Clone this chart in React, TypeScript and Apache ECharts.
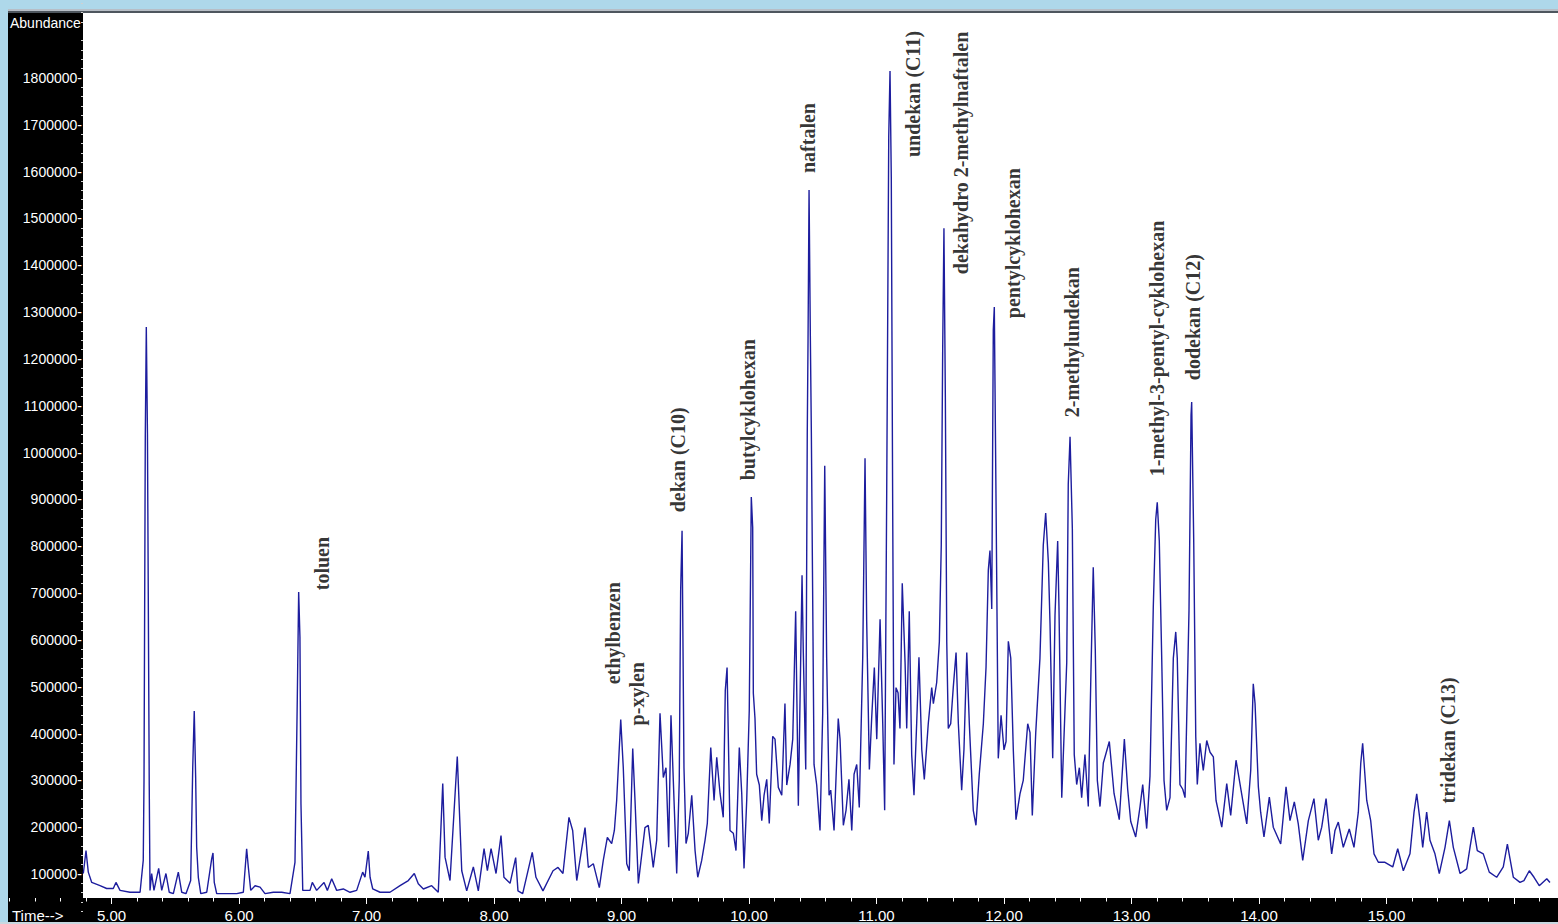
import React, { useEffect, useRef } from "react";
import * as echarts from "echarts";

// Retention time (min) and abundance, in segments
const segEarly: number[][] = [
  [4.779, 101000], [4.8, 150000], [4.818, 104000], [4.845, 82000], [4.91, 75000], [4.962, 69000],
  [5.014, 69000], [5.035, 82000], [5.067, 65000], [5.145, 61000], [5.224, 61000], [5.249, 129000],
  [5.255, 300000], [5.265, 1033000], [5.273, 1268000], [5.282, 1040000], [5.296, 289000], [5.302, 65000],
  [5.315, 101000], [5.333, 65000], [5.37, 112000], [5.394, 65000], [5.427, 101000], [5.453, 61000],
  [5.485, 58000], [5.524, 104000], [5.551, 61000], [5.584, 58000], [5.621, 86000], [5.637, 326000],
  [5.649, 448000], [5.66, 307000], [5.668, 157000], [5.681, 93000], [5.7, 58000], [5.747, 61000],
  [5.786, 133000], [5.796, 145000], [5.806, 82000], [5.825, 58000], [5.904, 58000], [5.982, 58000],
  [6.034, 61000], [6.06, 154000], [6.073, 115000], [6.092, 65000], [6.126, 75000], [6.165, 72000],
  [6.204, 58000], [6.269, 61000], [6.335, 61000], [6.4, 58000], [6.439, 125000], [6.457, 471000],
  [6.468, 702000], [6.478, 606000], [6.486, 250000], [6.5, 65000], [6.557, 65000], [6.575, 82000],
  [6.609, 65000], [6.667, 82000], [6.693, 65000], [6.727, 90000], [6.766, 65000], [6.818, 68000],
  [6.871, 61000], [6.923, 65000], [6.97, 104000], [6.988, 93000], [7.014, 149000], [7.028, 93000],
  [7.049, 68000], [7.106, 61000], [7.184, 61000], [7.263, 75000], [7.328, 86000], [7.375, 101000],
  [7.406, 79000], [7.446, 68000], [7.511, 75000], [7.563, 61000], [7.584, 200000],
];

const segC10: number[][] = [
  [7.598, 293000], [7.616, 136000], [7.655, 86000], [7.712, 351000], [7.747, 107000], [7.786, 64000],
  [7.838, 115000], [7.877, 64000], [7.922, 154000], [7.948, 107000], [7.977, 154000], [8.016, 101000],
  [8.055, 182000], [8.078, 93000], [8.126, 80000], [8.17, 135000], [8.188, 64000], [8.225, 58000],
  [8.3, 146000], [8.329, 93000], [8.384, 64000], [8.463, 107000], [8.502, 114000], [8.541, 101000],
  [8.588, 221000], [8.617, 193000], [8.649, 86000], [8.714, 199000], [8.74, 114000], [8.779, 122000],
  [8.826, 71000], [8.857, 129000], [8.889, 178000], [8.923, 165000], [8.944, 193000], [8.962, 257000],
  [8.994, 430000], [9.014, 327000], [9.041, 122000], [9.061, 107000], [9.088, 368000], [9.106, 257000],
  [9.132, 80000], [9.184, 199000], [9.21, 204000], [9.249, 114000], [9.276, 172000], [9.302, 443000],
  [9.328, 306000], [9.349, 327000], [9.37, 157000], [9.388, 439000], [9.412, 257000], [9.433, 101000],
  [9.453, 300000], [9.464, 706000], [9.475, 833000], [9.49, 327000], [9.506, 165000], [9.524, 187000],
  [9.551, 268000], [9.577, 150000], [9.598, 93000], [9.629, 129000], [9.655, 172000], [9.673, 208000],
  [9.7, 370000], [9.726, 257000], [9.747, 349000], [9.773, 272000], [9.798, 221000], [9.814, 492000],
  [9.828, 541000], [9.851, 193000], [9.877, 187000], [9.898, 150000], [9.924, 370000], [9.943, 272000],
  [9.961, 112000], [9.982, 257000], [10.002, 449000], [10.018, 905000], [10.029, 840000], [10.034, 486000],
  [10.047, 432000], [10.06, 313000],
];

const segC11: number[][] = [
  [10.081, 290000], [10.1, 214000], [10.118, 268000], [10.139, 302000], [10.159, 208000], [10.186, 394000],
  [10.204, 388000], [10.23, 285000], [10.257, 268000], [10.282, 464000], [10.296, 290000], [10.322, 334000],
  [10.343, 388000], [10.366, 661000], [10.387, 246000], [10.416, 738000], [10.426, 573000], [10.445, 323000],
  [10.457, 1043000], [10.463, 1239000], [10.471, 1561000], [10.481, 1250000], [10.489, 1043000], [10.51, 334000],
  [10.531, 290000], [10.557, 193000], [10.578, 443000], [10.594, 972000], [10.609, 563000], [10.628, 268000],
  [10.641, 279000], [10.667, 193000], [10.7, 432000], [10.714, 388000], [10.74, 204000], [10.761, 236000],
  [10.784, 302000], [10.806, 193000], [10.824, 313000], [10.845, 334000], [10.865, 242000], [10.892, 563000],
  [10.91, 988000], [10.923, 640000], [10.944, 323000], [10.962, 432000], [10.983, 541000], [11.002, 388000],
  [11.028, 644000], [11.049, 421000], [11.064, 236000], [11.08, 912000], [11.096, 1675000], [11.106, 1815000],
  [11.116, 1588000], [11.127, 879000], [11.137, 334000], [11.153, 498000], [11.169, 487000], [11.184, 411000],
  [11.202, 721000], [11.224, 552000], [11.237, 411000], [11.257, 661000], [11.276, 355000], [11.294, 268000],
  [11.315, 421000], [11.333, 563000], [11.355, 366000], [11.375, 302000], [11.406, 421000], [11.433, 498000],
  [11.446, 464000], [11.472, 509000], [11.493, 596000], [11.508, 803000], [11.519, 1217000], [11.529, 1479000],
  [11.54, 1118000], [11.551, 596000], [11.563, 411000], [11.582, 421000], [11.602, 498000], [11.624, 573000],
  [11.642, 421000], [11.668, 279000], [11.686, 366000], [11.708, 573000], [11.728, 421000], [11.759, 236000],
  [11.78, 204000], [11.806, 313000], [11.838, 421000], [11.859, 541000], [11.877, 749000], [11.89, 791000],
  [11.904, 666000], [11.916, 1261000], [11.924, 1311000], [11.937, 912000],
];

const segC12: number[][] = [
  [11.955, 347000], [11.977, 439000], [12.0, 365000], [12.016, 383000], [12.034, 597000], [12.053, 561000],
  [12.073, 365000], [12.094, 216000], [12.126, 272000], [12.151, 300000], [12.186, 421000], [12.204, 402000],
  [12.222, 225000], [12.249, 402000], [12.282, 561000], [12.308, 802000], [12.327, 871000], [12.348, 765000],
  [12.361, 634000], [12.382, 347000], [12.4, 652000], [12.421, 811000], [12.431, 672000], [12.453, 263000],
  [12.492, 551000], [12.504, 932000], [12.518, 1034000], [12.536, 838000], [12.551, 355000], [12.57, 291000],
  [12.591, 327000], [12.609, 263000], [12.635, 355000], [12.661, 244000], [12.682, 532000], [12.7, 755000],
  [12.716, 579000], [12.732, 300000], [12.753, 244000], [12.779, 337000], [12.826, 383000], [12.863, 272000],
  [12.904, 216000], [12.944, 388000], [12.97, 281000], [12.994, 212000], [13.033, 179000], [13.067, 244000],
  [13.088, 291000], [13.119, 197000], [13.145, 309000], [13.171, 672000], [13.19, 857000], [13.202, 894000],
  [13.218, 811000], [13.237, 561000], [13.255, 300000], [13.276, 236000], [13.302, 263000], [13.328, 561000],
  [13.347, 617000], [13.359, 561000], [13.38, 291000], [13.402, 281000], [13.42, 263000], [13.451, 663000],
  [13.467, 1080000], [13.472, 1108000], [13.488, 811000], [13.504, 393000], [13.516, 291000],
];

const segLate: number[][] = [
  [13.537, 379000], [13.563, 321000], [13.59, 385000], [13.616, 360000], [13.642, 350000], [13.663, 257000],
  [13.708, 200000], [13.747, 293000], [13.778, 225000], [13.82, 343000], [13.864, 271000], [13.904, 207000],
  [13.935, 321000], [13.955, 506000], [13.969, 464000], [13.995, 286000], [14.013, 232000], [14.039, 179000],
  [14.081, 264000], [14.112, 200000], [14.17, 164000], [14.212, 286000], [14.243, 214000], [14.277, 254000],
  [14.308, 207000], [14.343, 129000], [14.387, 214000], [14.431, 261000], [14.465, 172000], [14.492, 200000],
  [14.526, 261000], [14.57, 143000], [14.596, 193000], [14.622, 211000], [14.661, 157000], [14.708, 196000],
  [14.745, 157000], [14.779, 232000], [14.798, 336000], [14.813, 379000], [14.845, 257000], [14.876, 214000],
  [14.902, 143000], [14.936, 125000], [14.988, 125000], [15.049, 115000], [15.088, 154000], [15.132, 107000],
  [15.184, 143000], [15.216, 232000], [15.237, 271000], [15.263, 214000], [15.284, 157000], [15.315, 232000],
  [15.341, 172000], [15.38, 143000], [15.414, 101000], [15.459, 157000], [15.493, 214000], [15.524, 157000],
  [15.577, 101000], [15.629, 111000], [15.655, 157000], [15.681, 200000], [15.712, 150000], [15.759, 143000],
  [15.806, 104000], [15.864, 93000], [15.916, 115000], [15.948, 164000], [15.995, 93000], [16.047, 82000],
  [16.078, 86000], [16.12, 107000], [16.157, 93000], [16.198, 75000], [16.257, 90000], [16.282, 82000],
];

// Peak annotations: name, retention time of label column, abundance where label text begins
const peakNames = [
  "toluen", "ethylbenzen", "p-xylen", "dekan (C10)", "butylcyklohexan", "naftalen", "undekan (C11)",
  "dekahydro 2-methylnaftalen", "pentylcyklohexan", "2-methylundekan", "1-methyl-3-pentyl-cyklohexan",
  "dodekan (C12)", "tridekan (C13)",
];
const peakLabelTime = [6.651, 8.931, 9.119, 9.446, 9.995, 10.46, 11.29, 11.663, 12.067, 12.531, 13.2, 13.48, 15.485];
const peakLabelAbund = [706000, 505000, 417400, 872500, 940900, 1597000, 1631200, 1381100, 1287100, 1075600, 949500, 1154600, 250700];

const yAxisMin = 0;
const yAxisMax = 2000000;
const yStep = 100000;
const yLabelLow = 100000;
const yLabelHigh = 1800000;
const xAxisMin = 4;
const xAxisMax = 17;
const xLabelLow = 5;
const xLabelHigh = 15;

const chromatogram = [...segEarly, ...segC10, ...segC11, ...segC12, ...segLate];

export default function App() {
  const ref = useRef<HTMLDivElement>(null);

  useEffect(() => {
    if (!ref.current) return;
    const chart = echarts.init(ref.current, undefined, { renderer: "svg" });
    const W = 1558;
    const H = 924;
    const sans = '"Liberation Sans", Arial, sans-serif';
    chart.setOption({
      animation: false,
      backgroundColor: "#000000",
      graphic: [
        { type: "rect", z: 0, shape: { x: 0, y: 0, width: W, height: 9 }, style: { fill: "#aed8ea" } },
        { type: "rect", z: 0, shape: { x: 0, y: 0, width: 8, height: H }, style: { fill: "#aed8ea" } },
        { type: "rect", z: 0, shape: { x: 8, y: 9, width: W - 8, height: 2 }, style: { fill: "#b7bec6" } },
        { type: "rect", z: 0, shape: { x: 8, y: 11, width: W - 8, height: 2 }, style: { fill: "#4e565e" } },
        { type: "rect", z: 0, shape: { x: 0, y: 922, width: W, height: 2 }, style: { fill: "#c8d8e0" } },
        { type: "rect", z: 0, shape: { x: 83, y: 13, width: W - 83, height: 885 }, style: { fill: "#ffffff" } },
        {
          type: "text", z: 5, x: 10, y: 23,
          style: { text: "Abundance", fill: "#ffffff", font: "14px " + sans, textVerticalAlign: "middle" },
        },
        {
          type: "text", z: 5, x: 12, y: 915,
          style: { text: "Time-->", fill: "#ffffff", font: "15px " + sans, textVerticalAlign: "middle" },
        },
      ],
      grid: {
        left: -16,
        right: -83.5,
        top: -15.65,
        bottom: 3.18,
        outerBoundsMode: "none",
        containLabel: false,
      },
      xAxis: {
        type: "value",
        min: xAxisMin,
        max: xAxisMax,
        interval: 1,
        offset: -22.82,
        axisLine: { show: false },
        splitLine: { show: false },
        axisTick: { show: true, length: 6, lineStyle: { color: "#ffffff", width: 1 } },
        minorTick: { show: true, splitNumber: 5, length: 3.5, lineStyle: { color: "#ffffff", width: 1 } },
        axisLabel: {
          color: "#ffffff",
          fontSize: 15,
          fontFamily: sans,
          margin: 10,
          formatter: (v: number) => (v >= xLabelLow && v <= xLabelHigh ? v.toFixed(2) : ""),
        },
      },
      yAxis: {
        type: "value",
        min: yAxisMin,
        max: yAxisMax,
        interval: yStep,
        offset: -99,
        axisLine: { show: false },
        splitLine: { show: false },
        axisTick: { show: false },
        minorTick: { show: true, splitNumber: 5, length: 2, lineStyle: { color: "#d0d0d0", width: 1 } },
        axisLabel: {
          color: "#ffffff",
          fontSize: 14,
          fontFamily: sans,
          margin: 1,
          formatter: (v: number) => (v >= yLabelLow && v <= yLabelHigh ? String(v) + "-" : ""),
        },
      },
      series: [
        {
          type: "line",
          data: chromatogram,
          showSymbol: false,
          symbol: "none",
          lineStyle: { color: "#1d1d9e", width: 1.4 },
          z: 3,
        },
        {
          type: "scatter",
          silent: true,
          symbolSize: 1,
          itemStyle: { color: "rgba(0,0,0,0)" },
          z: 4,
          data: peakNames.map((n, i) => ({ name: n, value: [peakLabelTime[i], peakLabelAbund[i]] })),
          label: {
            show: true,
            formatter: "{b}",
            position: "inside",
            rotate: 90,
            align: "left",
            verticalAlign: "middle",
            color: "#000000",
            fontFamily: '"Liberation Serif", "Times New Roman", serif',
            fontWeight: "bold",
            fontSize: 20,
          },
        },
      ],
    });
    return () => chart.dispose();
  }, []);

  return (
    <div
      ref={ref}
      style={{ position: "fixed", left: 0, top: 0, width: 1558, height: 924 }}
    />
  );
}
